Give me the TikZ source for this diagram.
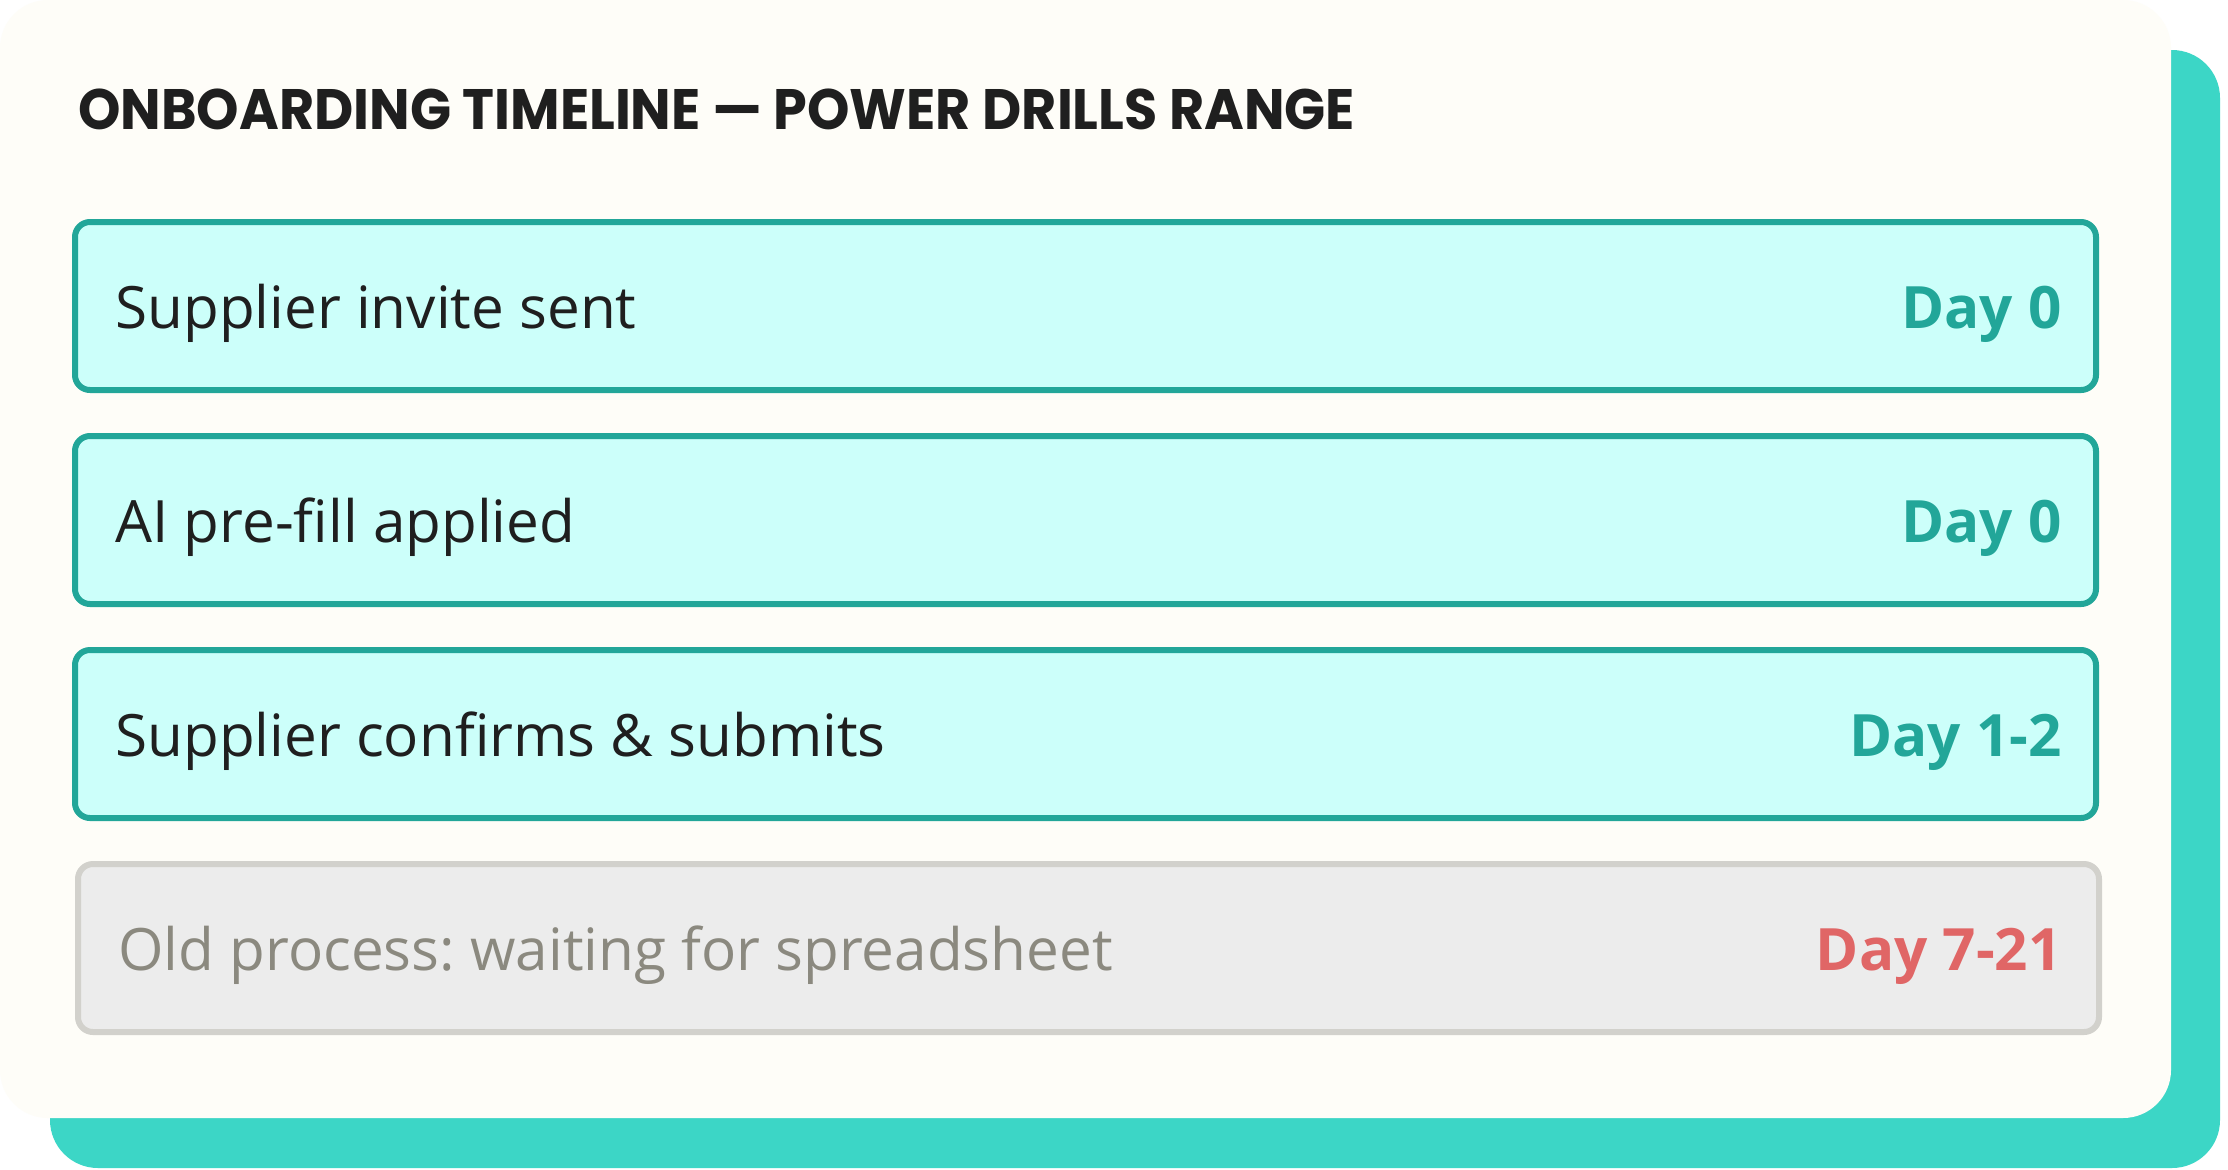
\documentclass[tikz,border=0pt]{standalone}
\usepackage{fontspec}
\setmainfont{Open Sans}
\newfontfamily\titlefont{Poppins}
\usetikzlibrary{positioning}
\frenchspacing

\definecolor{cardbg}{HTML}{FEFDF8}
\definecolor{shadowteal}{HTML}{3CD6C6}
\definecolor{rowfill}{HTML}{CCFFFA}
\definecolor{rowline}{HTML}{22A699}
\definecolor{oldfill}{HTML}{ECECEC}
\definecolor{oldline}{HTML}{D2D1CC}
\definecolor{oldtext}{HTML}{8B897F}
\definecolor{latered}{HTML}{E06666}
\definecolor{inktext}{HTML}{1F1F1F}

\tikzset{
	rowbox/.style={draw=rowline, fill=rowfill, line width=3pt, rounded corners=7.5pt,
		minimum width=1010.5pt, minimum height=84pt, inner sep=0pt},
	oldbox/.style={rowbox, draw=oldline, fill=oldfill},
	steptext/.style={anchor=base west, inner sep=0pt, text=inktext,
		font=\fontsize{29.2pt}{35pt}\selectfont},
	daytext/.style={anchor=base east, inner sep=0pt, text=rowline,
		font=\fontsize{29.2pt}{35pt}\selectfont\bfseries},
}

\begin{document}
\begin{tikzpicture}[x=0.5pt, y=-0.5pt, line cap=round, line join=round]

\useasboundingbox (0,0) rectangle (2228,1169);
\fill[white] (0,0) rectangle (2228,1169);

% ==== card with offset shadow ====
\fill[shadowteal, rounded corners=24pt] (50,50) rectangle (2220,1168);
\fill[cardbg, rounded corners=24pt] (0,0) rectangle (2171,1118);

\node[anchor=base west, inner sep=0pt, text=inktext,
	font=\titlefont\bfseries\fontsize{28.5pt}{34pt}\selectfont]
	(title) at (78,129) {\scalebox{0.947}[1]{ONBOARDING TIMELINE — POWER DRILLS RANGE}};

% ==== timeline rows ====
\node[rowbox] (row1) at (1085.5,306) {};
\node[steptext] (row1-txt) at ([xshift=21.5pt, yshift=-11pt]row1.west) {Supplier invite sent};
\node[daytext] (row1-day) at ([xshift=-18.5pt, yshift=-11pt]row1.east) {Day 0};

\node[rowbox] (row2) at (1085.5,520) {};
\node[steptext] (row2-txt) at ([xshift=21.5pt, yshift=-11pt]row2.west) {AI pre-fill applied};
\node[daytext] (row2-day) at ([xshift=-18.5pt, yshift=-11pt]row2.east) {Day 0};

\node[rowbox] (row3) at (1085.5,734) {};
\node[steptext] (row3-txt) at ([xshift=21.5pt, yshift=-11pt]row3.west) {Supplier confirms \& submits};
\node[daytext] (row3-day) at ([xshift=-18.5pt, yshift=-11pt]row3.east) {Day 1-2};

% old way, greyed out
\node[oldbox] (row4) at (1088.5,948) {};
\node[steptext, text=oldtext] (row4-txt) at ([xshift=21.5pt, yshift=-11pt]row4.west) {Old process: waiting for spreadsheet};
\node[daytext, text=latered] (row4-day) at ([xshift=-20pt, yshift=-11pt]row4.east) {Day 7-21};

\end{tikzpicture}
\end{document}
